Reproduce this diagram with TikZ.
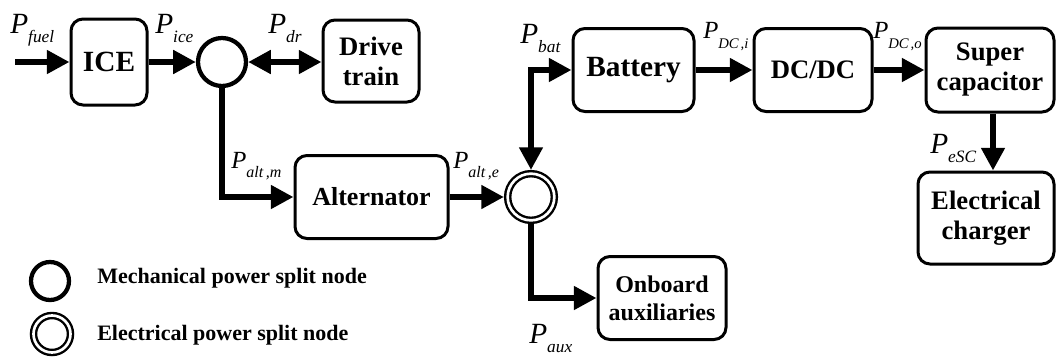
\documentclass[tikz,border=0pt]{standalone}
\usepackage{fontspec}
\setmainfont{Liberation Serif}
\usetikzlibrary{arrows.meta}
\newcommand\Pbig[1]{{\fontsize{22}{22}\selectfont\itshape P}\raisebox{-7pt}{\fontsize{13}{13}\selectfont\itshape #1}}
\newcommand\Psm[2][7pt]{{\fontsize{18.5}{18.5}\selectfont\itshape P}\raisebox{-#1}{\fontsize{12}{12}\selectfont\itshape #2}}
\newcommand\Pdc[1]{{\fontsize{18.5}{18.5}\selectfont\itshape P}\raisebox{-8pt}{\fontsize{11}{11}\selectfont\itshape #1}}
\tikzset{
  blk/.style={draw, line width=2.25pt, rounded corners=9pt, inner sep=0pt,
    align=center, font=\bfseries\fontsize{20}{22.5}\selectfont},
  flow/.style={line width=4.5pt, -{Triangle[length=17pt,width=17pt]}},
  flowtwo/.style={line width=4.5pt, {Triangle[length=17pt,width=17pt]}-{Triangle[length=17pt,width=17pt]}},
  mechnode/.style={circle, draw, line width=3.2pt, inner sep=0pt},
  elecnode/.style={circle, draw, line width=1.8pt, double=white, double distance=2pt, inner sep=0pt, outer sep=2.8pt},
  lab/.style={anchor=base west, inner sep=0pt},
  legtxt/.style={anchor=base west, inner sep=0pt, font=\bfseries\fontsize{16.5}{16.5}\selectfont},
}
\begin{document}
\begin{tikzpicture}[x=0.75pt,y=-0.75pt]
\useasboundingbox (0,0) rectangle (1056,358);
% boxes
\node[blk, minimum width=57pt, minimum height=64.5pt, font=\bfseries\fontsize{22}{24}\selectfont] (ice) at (109,62) {ICE};
\node[blk, minimum width=72pt, minimum height=61.5pt] (drive) at (371,61) {Drive\\train};
\node[blk, minimum width=114.75pt, minimum height=62.25pt, font=\bfseries\fontsize{19.5}{22}\selectfont] (alt) at (371.5,197) {Alternator};
\node[blk, minimum width=90.75pt, minimum height=62.25pt, font=\bfseries\fontsize{22}{24}\selectfont] (bat) at (633.5,70) {Battery};
\node[blk, minimum width=88.5pt, minimum height=62.25pt] (dcdc) at (813,70) {DC/DC};
\node[blk, minimum width=96pt, minimum height=63pt] (sup) at (990,70) {Super\\capacitor};
\node[blk, minimum width=102pt, minimum height=69pt] (chg) at (986,218) {Electrical\\charger};
\node[blk, minimum width=96pt, minimum height=62.25pt, font=\bfseries\fontsize{18}{21}\selectfont] (onb) at (662,298) {Onboard\\auxiliaries};
% split nodes
\node[mechnode, minimum size=36pt] (mech) at (222,62) {};
\node[elecnode, minimum size=35pt] (elec) at (531,197) {};
% connectors
\coordinate (fuel) at (15,62);
\draw[flow] (fuel) -- (ice.west);
\draw[flow] (ice.east) -- (mech.west);
\draw[flowtwo] (mech.east) -- (mech.east -| drive.west);
\draw[flow] (mech.south) |- (alt.west);
\draw[flow] (alt.east) -- (elec.west);
\draw[flowtwo] (elec.north) |- (bat.west);
\draw[flow] (bat.east) -- (dcdc.west);
\draw[flow] (dcdc.east) -- (sup.west);
\coordinate (scx) at (993,0);
\draw[flow] (sup.south -| scx) -- (chg.north -| scx);
\draw[flow] (elec.south) |- (onb.west);
% labels
\node[lab] (lfuel) at (10,33) {\Pbig{fuel}};
\node[lab] (lice) at (155,33) {\Pbig{ice}};
\node[lab] (ldr) at (268,33) {\Pbig{dr}};
\node[lab] (lbat) at (520,43) {\Pbig{bat}};
\node[lab] (ldci) at (703,38) {\Pdc{DC\kern1.5pt,i}};
\node[lab] (ldco) at (873,38) {\Pdc{DC\kern1.5pt,o}};
\node[lab] (laltm) at (231,168) {\Psm{alt\,,m}};
\node[lab] (lalte) at (453,168) {\Psm{alt\,,e}};
\node[lab] (lesc) at (930,153) {\Pbig{eSC}};
\node[lab] (laux) at (529,343) {\Pbig{aux}};
% legend
\node[mechnode, minimum size=28.5pt] (legm) at (50,281) {};
\node[elecnode, minimum size=27.75pt] (lege) at (52,334) {};
\node[legtxt] (legmt) at (97,283) {Mechanical power split node};
\node[legtxt] (leget) at (97,340) {Electrical power split node};
\end{tikzpicture}
\end{document}
